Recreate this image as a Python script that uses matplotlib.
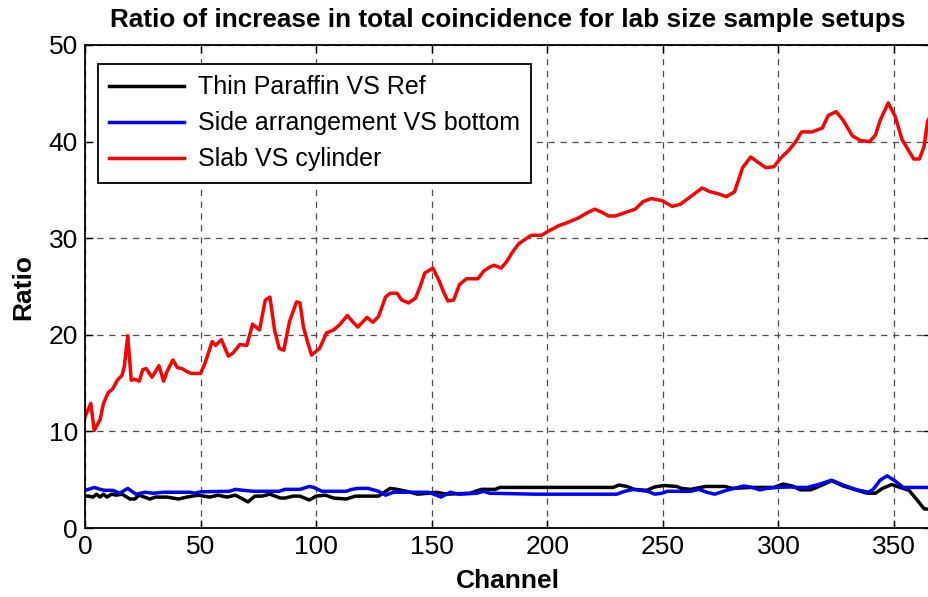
import matplotlib
matplotlib.use("Agg")
import matplotlib.pyplot as plt

plt.rcParams['font.family'] = ['Liberation Sans', 'DejaVu Sans']

# Thin Paraffin VS Ref
black_ch = [0, 1.5, 3.5, 5, 6.5, 8, 9.5, 11.5, 13.5, 16, 19.5, 21.5, 23.5, 28, 30.5,
            35.5, 40.5, 44, 49, 54, 57.5, 61.5, 65, 67.5, 70.5, 73.5, 76.5, 80, 84.5, 86.5,
            90, 93, 97, 100, 104, 107.5, 113, 117, 127, 132, 135, 139, 144, 148.5, 152,
            156.5, 166.5, 171.5, 177.5, 179.5, 228.5, 231, 234.5, 237.5, 243, 246.5, 250.5,
            256, 258, 262, 268.5, 277, 280, 288, 298, 302, 306, 309.5, 314, 319, 323, 328,
            335.5, 338.5, 342, 345, 349, 352, 356.5, 360, 363, 366]
black_ratio = [3.3, 3.3, 3.2, 3.5, 3.2, 3.5, 3.2, 3.5, 3.4, 3.5, 3.0, 3.0, 3.4, 3.0, 3.2,
               3.2, 3.0, 3.2, 3.4, 3.2, 3.4, 3.2, 3.4, 3.1, 2.7, 3.3, 3.3, 3.5, 3.1, 3.1,
               3.3, 3.3, 2.9, 3.3, 3.4, 3.1, 3.0, 3.3, 3.3, 4.1, 4.0, 3.8, 3.5, 3.6, 3.7,
               3.5, 3.6, 4.0, 4.0, 4.2, 4.2, 4.45, 4.3, 4.0, 3.9, 4.25, 4.4,
               4.3, 4.1, 4.0, 4.3, 4.3, 4.1, 4.2, 4.2, 4.55, 4.35, 3.95, 3.95, 4.45, 4.9, 4.35,
               3.8, 3.6, 3.6, 4.1, 4.5, 4.25, 3.9, 2.9, 2.0, 1.9]

# Side arrangement VS bottom
blue_ch = [0, 1.5, 4, 6.5, 8.5, 12, 15, 18.5, 22, 26, 29.5, 34, 39.5, 45.5, 47.5,
           50, 62.5, 65, 68.5, 73, 84, 86.5, 93, 97, 99, 102.5, 113, 115.5, 118, 122.5,
           127, 130, 133.5, 139, 148.5, 152, 154, 158, 162, 169.5, 172.5, 175, 195, 230, 233.5,
           237.5, 240, 243.5, 246.5, 249.5, 252, 262, 265.5, 269, 272.5, 277.5, 285, 288.5, 292, 295,
           299.5, 305, 308, 312.5, 318, 323, 328, 334, 339, 341, 344, 347, 350, 354, 366]
blue_ratio = [3.9, 4.0, 4.2, 4.0, 3.9, 3.9, 3.6, 4.1, 3.5, 3.7, 3.6, 3.7, 3.7, 3.7, 3.6,
              3.75, 3.8, 4.0, 3.9, 3.8, 3.8, 4.0, 4.0, 4.3, 4.2, 3.8, 3.8, 4.0, 4.1, 4.1,
              3.8, 3.4, 3.7, 3.7, 3.7, 3.4, 3.2, 3.7, 3.5, 3.6, 3.8, 3.6, 3.5, 3.5, 3.8,
              4.0, 3.9, 3.8, 3.5, 3.6, 3.8, 3.8, 4.0, 3.7, 3.5, 3.9, 4.35, 4.2, 3.95, 4.1,
              4.2, 4.25, 4.2, 4.2, 4.55, 4.95, 4.45, 3.95, 3.7, 4.0, 4.95, 5.4, 4.95, 4.2, 4.2]

# Slab VS cylinder
red_ch = [0, 2.5, 4, 6.5, 8, 10, 12, 14, 16, 17, 18.5, 20, 21.5, 23.5, 25, 26.5, 29, 32,
          34, 35.5, 38, 40, 42, 44, 46, 50, 52, 55, 56.5, 59, 62, 64, 67, 70, 72.5, 75.5,
          78, 80, 82, 84, 86, 88.5, 91.5, 93, 94.5, 96, 98, 101.5, 104.5, 107.5, 110, 113.5,
          116, 118, 122, 124.5, 127, 130, 132, 135, 137, 140, 143, 145, 147, 150.5, 153, 155,
          157, 159.5, 162, 165, 170, 172.5, 175, 177, 180, 182.5, 184.5, 187.5, 190.5, 193,
          197.5, 201, 205, 208.5, 213.5, 217, 220.5, 223.5, 226.5, 229.5, 233, 238, 241.5,
          245, 249.5, 254, 257.5, 262, 267, 270.5, 274, 277.5, 281, 284.5, 288, 291.5, 294.5,
          298, 301, 304.5, 307.5, 310, 314.5, 319, 321.5, 325, 328, 332, 335.5, 339.5, 342,
          344, 347.5, 350.5, 353.5, 356.5, 358.5, 361, 363, 364.5, 366]
red_ratio = [11.5, 12.9, 10.1, 11.2, 12.9, 14.0, 14.4, 15.3, 15.8, 16.7, 19.9, 15.3, 15.4,
             15.2, 16.4, 16.5, 15.6, 16.8, 15.2, 16.2, 17.4, 16.6, 16.5, 16.2, 16.0, 16.0,
             17.1, 19.3, 18.9, 19.5, 17.8, 18.1, 19.0, 18.9, 21.1, 20.5, 23.6, 23.9, 20.5,
             18.6, 18.4, 21.4, 23.4, 23.3, 20.8, 19.5, 17.9, 18.6, 20.2, 20.5, 21.0, 22.0,
             21.3, 20.8, 21.8, 21.3, 21.9, 23.9, 24.3, 24.3, 23.6, 23.3, 23.8, 25.0, 26.4,
             26.9, 25.7, 24.5, 23.5, 23.6, 25.2, 25.8, 25.8, 26.6, 27.0, 27.2, 26.9, 27.6,
             28.4, 29.4, 29.9, 30.3, 30.3, 30.8, 31.3, 31.6, 32.1, 32.6, 33.0, 32.7, 32.3,
             32.3, 32.6, 33.0, 33.8, 34.1, 33.9, 33.3, 33.5, 34.3, 35.2, 34.8, 34.6, 34.3,
             34.8, 37.3, 38.4, 37.8, 37.3, 37.4, 38.3, 39.1, 40.0, 41.0, 41.0, 41.4, 42.7,
             43.1, 42.2, 40.6, 40.1, 40.0, 40.7, 42.2, 44.0, 42.6, 40.2, 39.0, 38.2, 38.2,
             39.5, 42.1, 42.8]

xticks = [0, 50, 100, 150, 200, 250, 300, 350]
yticks = [0, 10, 20, 30, 40, 50]

fig = plt.figure(figsize=(9.29, 5.97), dpi=100)
ax = fig.add_axes([85 / 929, 69 / 597, 846 / 929, 483 / 597])

ax.plot(black_ch, black_ratio, color='black', lw=2.5, label='Thin Paraffin VS Ref')
ax.plot(blue_ch, blue_ratio, color='#0000ff', lw=2.5, label='Side arrangement VS bottom')
ax.plot(red_ch, red_ratio, color='#ff0000', lw=2.5, label='Slab VS cylinder')

ax.set_xlim(0, 366)
ax.set_ylim(0, 50)
ax.set_xticks(xticks)
ax.set_yticks(yticks)
ax.tick_params(direction='in', length=6, width=1, labelsize=19, pad=5,
               top=True, right=True)
ax.grid(True, color='0.3', linestyle=(0, (5, 4.5)), linewidth=0.9)
for s in ax.spines.values():
    s.set_linewidth(1.3)

ax.set_title('Ratio of increase in total coincidence for lab size sample setups',
             fontsize=18.8, fontweight='bold', pad=13)
ax.set_xlabel('Channel', fontsize=19, fontweight='bold', labelpad=7)
ax.set_ylabel('Ratio', fontsize=19, fontweight='bold', labelpad=10)

leg = ax.legend(loc='upper left', bbox_to_anchor=(13 / 846, (528 - 64) / 483),
                borderaxespad=0, fontsize=18, handlelength=3.0, handletextpad=0.55,
                labelspacing=0.48, borderpad=0.45, fancybox=False, framealpha=1)
leg.get_frame().set_edgecolor('black')
leg.get_frame().set_linewidth(1.3)

fig.savefig('out.png', dpi=100)
